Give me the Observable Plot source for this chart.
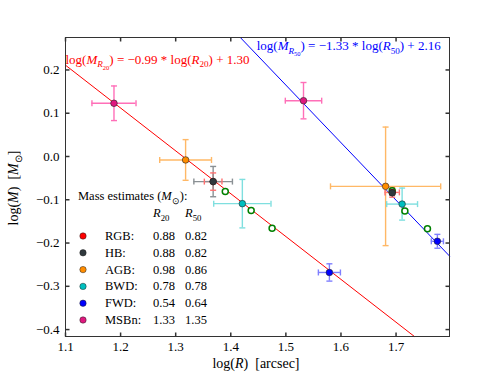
<!DOCTYPE html>
<html><head><meta charset="utf-8">
<script src="https://cdn.jsdelivr.net/npm/d3@7"></script>
<script src="https://cdn.jsdelivr.net/npm/@observablehq/plot@0.6"></script>
<style>
body{margin:0;background:#fff;}
#chart svg{font-family:"Liberation Serif","DejaVu Serif",serif;}
</style></head><body><div id="chart"></div>
<script>
// ---- data ----
const populations = ["RGB", "HB", "AGB", "BWD", "FWD", "MSBn"];
const markerColors = ["#ff0000", "#2f383d", "#ff8c00", "#00bfbf", "#0000ff", "#e0187f"];
const errorColors  = ["#ff7070", "#8a9094", "#ffb866", "#7fdfdf", "#7f7fff", "#ff6fb8"];
// R20 radii
const r20LogR = [1.368, 1.368, 1.318, 1.421, 1.579, 1.188];
const r20LogM = [-0.058, -0.058, -0.008, -0.109, -0.268, 0.123];
const r20ErrR = [0.016, 0.035, 0.047, 0.052, 0.020, 0.040];
const r20ErrM = [0.020, 0.035, 0.047, 0.056, 0.020, 0.040];
// R50 radii
const r50LogR = [1.693, 1.693, 1.681, 1.711, 1.775, 1.532];
const r50LogM = [-0.083, -0.084, -0.069, -0.110, -0.196, 0.129];
const r50ErrR = [0.013, 0.004, 0.100, 0.028, 0.011, 0.033];
const r50ErrM = [0.011, 0.004, 0.137, 0.037, 0.016, 0.042];
// open green circles
const greenLogR = [1.390, 1.437, 1.475, 1.693, 1.716, 1.757];
const greenLogM = [-0.081, -0.125, -0.166, -0.079, -0.126, -0.167];
// mass estimates (legend)
const massR20 = [0.88, 0.88, 0.98, 0.78, 0.54, 1.33];
const massR50 = [0.82, 0.82, 0.86, 0.78, 0.64, 1.35];
// fits: logM = slope*logR + intercept
const fitNames = ["R20", "R50"];
const fitSlopes = [-0.99, -1.33];
const fitIntercepts = [1.30, 2.16];
const fitColors = ["#ff0000", "#0000ff"];
const fitLabels = [
  "log({i:M}{si:R}{ss:20}) = −0.99 * log({i:R}{s:20}) + 1.30",
  "log({i:M}{si:R}{ss:50}) = −1.33 * log({i:R}{s:50}) + 2.16"
];
const fitLabelPos = [[1.1, 0.224], [1.447, 0.256]];
// axes
const xDomain = [1.1, 1.797];
const yDomain = [-0.416, 0.275];
const xTicks = [1.1, 1.2, 1.3, 1.4, 1.5, 1.6, 1.7];
const yTicks = [-0.4, -0.3, -0.2, -0.1, 0.0, 0.1, 0.2];

// ---- derived tables ----
const points = populations.flatMap((p, i) => [
  {pop: p, i, x: r20LogR[i], y: r20LogM[i], ex: r20ErrR[i], ey: r20ErrM[i]},
  {pop: p, i, x: r50LogR[i], y: r50LogM[i], ex: r50ErrR[i], ey: r50ErrM[i]}
]);
const greens = greenLogR.map((x, k) => ({x, y: greenLogM[k]}));
const fitLines = fitSlopes.flatMap((a, k) => {
  const b = fitIntercepts[k];
  const x1 = Math.max(xDomain[0], (yDomain[1] - b) / a);
  const x2 = Math.min(xDomain[1], (yDomain[0] - b) / a);
  return [{k, x: x1, y: a * x1 + b}, {k, x: x2, y: a * x2 + b}];
});
const fitText = fitLabels.map((t, k) => ({k, t, x: fitLabelPos[k][0], y: fitLabelPos[k][1]}));

// custom symbols
const sym = (x1, y1, x2, y2) => ({draw(c) { c.moveTo(x1, y1); c.lineTo(x2, y2); }});
const tickUp = sym(0, 0, 0, -4), tickDown = sym(0, 0, 0, 4);
const tickRight = sym(0, 0, 4, 0), tickLeft = sym(0, 0, -4, 0);
const capV = sym(0, -3, 0, 3), capH = sym(-3, 0, 3, 0);

const ecol = d => errorColors[d.i];
const plot = Plot.plot({
  width: 498, height: 374,
  marginTop: 37, marginRight: 49, marginBottom: 38, marginLeft: 65,
  x: {domain: xDomain, label: null},
  y: {domain: yDomain, label: null},
  style: {fontFamily: "Liberation Serif", fontSize: "13px", background: "white", color: "black"},
  marks: [
    Plot.axisX({ticks: xTicks, tickSize: 0, tickPadding: 5, tickFormat: d3.format(".1f"), label: null, fontSize: 13}),
    Plot.axisY({ticks: yTicks, tickSize: 0, tickPadding: 6, tickFormat: d3.format(".1f"), label: null, fontSize: 13}),
    Plot.line(fitLines, {x: "x", y: "y", z: "k", stroke: d => fitColors[d.k], strokeWidth: 1}),
    Plot.ruleY(points, {y: "y", x1: d => d.x - d.ex, x2: d => d.x + d.ex, stroke: ecol, strokeWidth: 1.4}),
    Plot.ruleX(points, {x: "x", y1: d => d.y - d.ey, y2: d => d.y + d.ey, stroke: ecol, strokeWidth: 1.4}),
    Plot.dot(points, {x: d => d.x - d.ex, y: "y", symbol: capV, fill: "none", stroke: ecol, strokeWidth: 1.4}),
    Plot.dot(points, {x: d => d.x + d.ex, y: "y", symbol: capV, fill: "none", stroke: ecol, strokeWidth: 1.4}),
    Plot.dot(points, {x: "x", y: d => d.y - d.ey, symbol: capH, fill: "none", stroke: ecol, strokeWidth: 1.4}),
    Plot.dot(points, {x: "x", y: d => d.y + d.ey, symbol: capH, fill: "none", stroke: ecol, strokeWidth: 1.4}),
    Plot.dot(greens, {x: "x", y: "y", r: 3, fill: "white", stroke: "#008000", strokeWidth: 1.5}),
    Plot.dot(points, {x: "x", y: "y", r: 3.3, fill: d => markerColors[d.i], stroke: "#222", strokeWidth: 0.6}),
    Plot.frame({stroke: "#333", strokeWidth: 1}),
    Plot.dot(xTicks, {x: d => d, frameAnchor: "bottom", symbol: tickUp, fill: "none", stroke: "#333"}),
    Plot.dot(xTicks, {x: d => d, frameAnchor: "top", symbol: tickDown, fill: "none", stroke: "#333"}),
    Plot.dot(yTicks, {y: d => d, frameAnchor: "left", symbol: tickRight, fill: "none", stroke: "#333"}),
    Plot.dot(yTicks, {y: d => d, frameAnchor: "right", symbol: tickLeft, fill: "none", stroke: "#333"}),
    Plot.text(fitText, {x: "x", y: "y", text: "t", textAnchor: "start", fill: d => fitColors[d.k], fontSize: 13, className: "rich"})
  ]
});
document.getElementById("chart").append(plot);

// ---- rich text (italic / subscripts) ----
const styles = {n: [1, 0, false], i: [1, 0, true], s: [0.7, 0.28, false], si: [0.7, 0.28, true], ss: [0.5, 0.45, false]};
function rich(el, markup, base) {
  const re = /\{(i|s|si|ss):([^}]*)\}/g;
  const segs = []; let last = 0, m;
  while ((m = re.exec(markup))) {
    if (m.index > last) segs.push(["n", markup.slice(last, m.index)]);
    segs.push([m[1], m[2]]); last = re.lastIndex;
  }
  if (last < markup.length) segs.push(["n", markup.slice(last)]);
  const t = d3.select(el); t.text(null).attr("xml:space", "preserve");
  let cur = 0;
  for (const [type, str] of segs) {
    const [sz, sh, it] = styles[type];
    const ts = t.append("tspan").text(str).attr("font-size", (sz * base) + "px");
    if (it) ts.attr("font-style", "italic");
    const target = sh * base, d = target - cur;
    if (Math.abs(d) > 1e-6) ts.attr("dy", d.toFixed(2));
    cur = target;
  }
}
const svg = d3.select(plot);
svg.selectAll("g.rich text").each(function() { rich(this, this.textContent, 13); });

// axis labels
const lx = svg.append("text").attr("x", 256).attr("y", 364).attr("dy", "0.32em")
  .attr("text-anchor", "middle").attr("fill", "black").attr("font-size", 14).node();
rich(lx, "log({i:R})  [arcsec]", 14);
const ly = svg.append("text").attr("transform", "translate(14,188) rotate(-90)").attr("dy", "0.32em")
  .attr("text-anchor", "middle").attr("fill", "black").attr("font-size", 14).node();
rich(ly, "log({i:M})  [{i:M}{s:⊙}]", 14);

// legend box (mass estimates)
const lg = svg.append("g").attr("font-size", 12.5).attr("fill", "black").attr("text-anchor", "start");
rich(lg.append("text").attr("x", 78).attr("y", 196).attr("dy", "0.32em").node(), "Mass estimates ({i:M}{s:⊙}):", 12.5);
rich(lg.append("text").attr("x", 153).attr("y", 213).attr("dy", "0.32em").node(), "{i:R}{s:20}", 12.5);
rich(lg.append("text").attr("x", 185).attr("y", 213).attr("dy", "0.32em").node(), "{i:R}{s:50}", 12.5);
populations.forEach((p, i) => {
  const y = 236 + i * 16.8;
  lg.append("circle").attr("cx", 83).attr("cy", y).attr("r", 3.2)
    .attr("fill", markerColors[i]).attr("stroke", "#222").attr("stroke-width", 0.5);
  lg.append("text").attr("x", 105).attr("y", y).attr("dy", "0.32em").text(p + ":");
  lg.append("text").attr("x", 153).attr("y", y).attr("dy", "0.32em").text(massR20[i].toFixed(2));
  lg.append("text").attr("x", 185).attr("y", y).attr("dy", "0.32em").text(massR50[i].toFixed(2));
});
</script></body></html>
